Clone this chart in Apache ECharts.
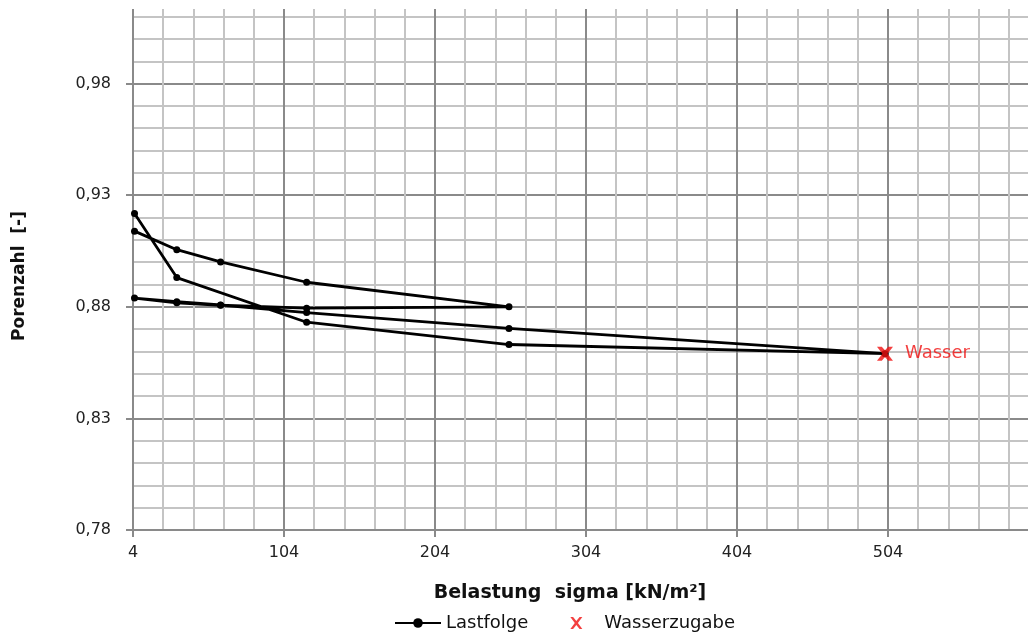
<!DOCTYPE html>
<html>
<head>
<meta charset="utf-8">
<script src="https://cdn.jsdelivr.net/npm/echarts@6/dist/echarts.min.js"></script>
<style>
html,body{margin:0;padding:0;background:#fff;}
#chart{width:1028px;height:639px;}
</style>
</head>
<body>
<div id="chart"></div>
<script>
// Data
const sigma = [5, 33, 119, 253, 502, 253, 119, 62, 33, 5, 33, 62, 119, 253, 119, 62, 33, 5];
const porenzahl = [0.9218, 0.8931, 0.8731, 0.8631, 0.859, 0.8703, 0.8774, 0.8808, 0.8823, 0.8839, 0.8818, 0.8807, 0.8794, 0.880, 0.891, 0.9001, 0.9056, 0.9139];
const wasserSigma = [502];
const wasserPorenzahl = [0.859];
const wasserLabel = 'Wasser';
const seriesNames = ['Lastfolge', 'Wasserzugabe'];
const xTitle = 'Belastung  sigma [kN/m²]';
const yTitle = 'Porenzahl  [-]';

const FONT = 'DejaVu Sans';
const MAJOR = '#8a8a8a';
const MINOR = '#c4c4c4';
const RED = '#f01010';
const XPATH = 'path://M0,0 L3,0 L5,2.6 L7,0 L10,0 L6.6,5 L10,10 L7,10 L5,7.4 L3,10 L0,10 L3.4,5 Z';
const XTHIN = 'path://M0,0 L2.3,0 L5,3.4 L7.7,0 L10,0 L6.3,5 L10,10 L7.7,10 L5,6.6 L2.3,10 L0,10 L3.7,5 Z';

const lastData = sigma.map((s, i) => [s, porenzahl[i]]);
const wasserData = wasserSigma.map((s, i) => [s, wasserPorenzahl[i]]);

const chart = echarts.init(document.getElementById('chart'));
chart.setOption({
  backgroundColor: '#fff',
  animation: false,
  textStyle: { fontFamily: FONT },
  grid: { left: 133, right: -11, top: -28, bottom: 109, containLabel: false, outerBoundsMode: 'none' },
  xAxis: {
    type: 'value', min: 4, max: 604, interval: 100,
    axisLine: { show: true, onZero: false, lineStyle: { color: MAJOR, width: 2 } },
    axisTick: { show: true, length: 7, inside: false, lineStyle: { color: MAJOR, width: 2 } },
    axisLabel: { color: '#222', fontSize: 16, fontFamily: FONT, margin: 15,
      formatter: v => (v > 504 ? '' : String(v)) },
    splitLine: { show: true, lineStyle: { color: MAJOR, width: 2 } },
    minorTick: { show: false, splitNumber: 5 },
    minorSplitLine: { show: true, lineStyle: { color: MINOR, width: 2 } }
  },
  yAxis: {
    type: 'value', min: 0.78, max: 1.03, interval: 0.05,
    axisLine: { show: true, onZero: false, lineStyle: { color: MAJOR, width: 2 } },
    axisTick: { show: true, length: 7, inside: false, lineStyle: { color: MAJOR, width: 2 } },
    axisLabel: { color: '#222', fontSize: 16, fontFamily: FONT, margin: 22,
      formatter: v => v.toFixed(2).replace('.', ',') },
    splitLine: { show: true, lineStyle: { color: MAJOR, width: 2 } },
    minorTick: { show: false, splitNumber: 5 },
    minorSplitLine: { show: true, lineStyle: { color: MINOR, width: 2 } }
  },
  legend: {
    top: 614, left: 394, padding: 0, itemGap: 42, itemWidth: 46, itemHeight: 12,
    textStyle: { fontSize: 18, color: '#111', fontFamily: FONT },
    data: [
      { name: seriesNames[0] },
      { name: seriesNames[1], icon: XTHIN, itemStyle: { color: RED } }
    ]
  },
  graphic: [
    { type: 'rect', z: 100, silent: true, shape: { x: 0, y: 0, width: 1028, height: 9 }, style: { fill: '#fff' } },
    { type: 'text', z: 101, x: 570, y: 593,
      style: { text: xTitle, font: 'bold 19px ' + FONT, fill: '#111', align: 'center', verticalAlign: 'middle' } },
    { type: 'text', z: 101, rotation: Math.PI / 2, x: 20, y: 276,
      style: { text: yTitle, font: 'bold 17px ' + FONT, fill: '#111', align: 'center', verticalAlign: 'middle' } }
  ],
  series: [
    {
      name: seriesNames[0], type: 'line', data: lastData,
      symbol: 'circle', symbolSize: 7, showSymbol: true,
      lineStyle: { color: '#000', width: 2.8 }, itemStyle: { color: '#000' },
      z: 5
    },
    {
      name: seriesNames[1], type: 'scatter', data: wasserData,
      symbol: XPATH, symbolSize: [16, 14], itemStyle: { color: RED }, z: 6,
      label: { show: true, position: 'right', distance: 12, formatter: wasserLabel,
        color: RED, fontSize: 18, fontFamily: FONT }
    }
  ]
});
</script>
</body>
</html>
